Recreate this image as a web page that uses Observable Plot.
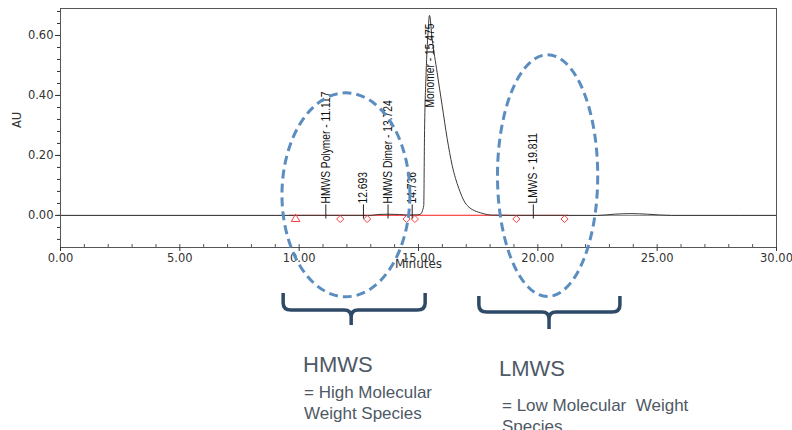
<!DOCTYPE html>
<html><head><meta charset="utf-8">
<script src="https://cdn.jsdelivr.net/npm/d3@7"></script>
<script src="https://cdn.jsdelivr.net/npm/@observablehq/plot@0.6"></script>
<style>
html,body{margin:0;padding:0;background:#fff;}
#chart{width:792px;height:430px;overflow:hidden;}
</style></head><body><div id="chart"></div>
<script>
// Chromatogram trace (minutes, AU)
const timeMin = [0, 9.0, 13.0, 13.3, 13.7, 14.2, 14.6, 14.95, 15.08, 15.22, 15.25, 15.32, 15.40, 15.46, 15.57, 15.78, 15.99, 16.20, 16.41, 16.69, 17.04, 17.67, 18.09, 19.0, 21.0, 22.5, 23.2, 23.9, 24.6, 25.6, 27.0, 30.0];
const absorbanceAU = [0, 0, 0, 0.003, 0.004, 0.003, 0.001, 0.002, 0.004, 0.033, 0.257, 0.477, 0.61, 0.667, 0.59, 0.477, 0.367, 0.257, 0.167, 0.09, 0.033, 0.007, 0.001, 0, 0, 0, 0.004, 0.006, 0.004, 0, 0, 0];

// Peak labels
const peakTimes = [11.117, 12.693, 13.724, 14.736, 15.475, 19.811];
const peakNames = ["HMWS Polymer - 11.117", "12.693", "HMWS Dimer - 13.724", "14.736", "Monomer - 15.475", "LMWS - 19.811"];
const peakLabelAU = [0.04, 0.04, 0.04, 0.04, 0.36, 0.04];

// Integration baseline and event markers
const baselineTimes = [9.6, 21.3];
const markerTimes = [9.85, 11.72, 12.85, 14.5, 14.85, 19.1, 21.12];
const markerSymbols = ["triangle", "diamond2", "diamond2", "diamond2", "diamond2", "diamond2", "diamond2"];

// Axis ticks
const xTicks = [0, 5, 10, 15, 20, 25, 30];
const xMinorTicks = d3.range(0, 31, 1);
const yTicks = [0, 0.2, 0.4, 0.6];
const yMinorTicks = [-0.08, -0.04, 0, 0.04, 0.08, 0.12, 0.16, 0.2, 0.24, 0.28, 0.32, 0.36, 0.4, 0.44, 0.48, 0.52, 0.56, 0.6, 0.64, 0.68];

// Annotation groups
const groupNames = ["HMWS", "LMWS"];
const groupDescriptions = [["= High Molecular", "Weight Species"], ["= Low Molecular  Weight", "Species"]];

const trace = timeMin.map((t, i) => ({t, au: absorbanceAU[i]}));
const peaks = peakTimes.map((t, i) => ({t, name: peakNames[i], base: peakLabelAU[i]}));
const markers = markerTimes.map((t, i) => ({t, symbol: markerSymbols[i]}));

const plot = Plot.plot({
  width: 792, height: 430,
  marginLeft: 60, marginRight: 16, marginTop: 8, marginBottom: 183,
  style: {fontFamily: "'DejaVu Sans', sans-serif", fontSize: "11.5px", color: "#333", background: "#fff"},
  x: {domain: [0, 30]},
  y: {domain: [-0.107, 0.69]},
  marks: [
    Plot.ruleY([0], {stroke: "#8a8a8a", strokeWidth: 1}),
    Plot.ruleY([0], {x1: baselineTimes[0], x2: baselineTimes[1], stroke: "#ff5050", strokeWidth: 1.2}),
    Plot.line(trace, {x: "t", y: "au", stroke: "#3a3a3a", strokeWidth: 1, curve: "monotone-x"}),
    Plot.dot(markers, {x: "t", y: -0.012, symbol: "symbol", r: 3.2, stroke: "#ff4040", fill: "none", strokeWidth: 1}),
    Plot.ruleX(peaks.filter(d => d.base < 0.1), {x: "t", y1: -0.012, y2: 0.035, stroke: "#222", strokeWidth: 1}),
    Plot.text(peaks, {x: "t", y: "base", text: "name", rotate: -90, textAnchor: "start", lineAnchor: "middle", fontSize: 12.5, fontFamily: "'Liberation Sans', Arial, sans-serif", fill: "#111", className: "peaklabel"}),
    Plot.frame({stroke: "#555"}),
    Plot.axisX({ticks: xTicks, tickFormat: d3.format(".2f"), tickSize: 4, tickPadding: 2, label: null, fontSize: 11.5}),
    Plot.tickX(xMinorTicks, {x: d => d, insetTop: 236, stroke: "#555"}),
    Plot.axisY({ticks: yMinorTicks, tickSize: 3, tickFormat: () => "", label: null}),
    Plot.axisY({ticks: yTicks, tickFormat: d3.format(".2f"), tickSize: 5, tickPadding: 2, label: null, fontSize: 11.5}),
    Plot.text(["AU"], {frameAnchor: "left", dx: -43, rotate: -90, fontSize: 11.5}),
    Plot.text(["Minutes"], {x: 15, frameAnchor: "bottom", dy: 20, fontSize: 12, textAnchor: "middle"})
  ]
});

document.getElementById("chart").appendChild(plot);

// Condense the rotated peak labels like the instrument software's narrow font
d3.select(plot).selectAll("g.peaklabel text, .peaklabel text").each(function() {
  const len = this.getComputedTextLength();
  if (len > 0) {
    this.setAttribute("textLength", (len * 0.82).toFixed(1));
    this.setAttribute("lengthAdjust", "spacingAndGlyphs");
  }
});

// Overlay annotations using the plot's scales
const sx = plot.scale("x"), sy = plot.scale("y");
const svg = d3.select(plot);
const ellipseT = [11.98, 20.43], ellipseAU = [0.067, 0.131], ellipseRT = [2.68, 2.1], ellipseRAU = [0.34, 0.403];
ellipseT.forEach((t, i) => {
  const cx = sx.apply(t), cy = sy.apply(ellipseAU[i]);
  svg.append("ellipse")
    .attr("cx", cx).attr("cy", cy)
    .attr("rx", sx.apply(t + ellipseRT[i]) - cx)
    .attr("ry", cy - sy.apply(ellipseAU[i] + ellipseRAU[i]))
    .attr("fill", "none").attr("stroke", "#5b8dbf").attr("stroke-width", 3)
    .attr("stroke-dasharray", "9,5");
});

// Braces
const braceFrom = [9.35, 17.55], braceTo = [15.3, 23.46], braceTip = [12.2, 20.49];
const braceTop = [293, 296], braceLine = [310, 312], braceBottom = [325, 329];
braceFrom.forEach((a, i) => {
  const x1 = sx.apply(a), x2 = sx.apply(braceTo[i]), xm = sx.apply(braceTip[i]);
  const t = braceTop[i], h = braceLine[i], b = braceBottom[i];
  const p = `M${x1},${t} L${x1},${h - 7} Q${x1},${h} ${x1 + 8},${h} L${xm - 7},${h} Q${xm},${h} ${xm},${h + 7} L${xm},${b} M${xm},${h + 7} Q${xm},${h} ${xm + 7},${h} L${x2 - 8},${h} Q${x2},${h} ${x2},${h - 7} L${x2},${t}`;
  svg.append("path").attr("d", p).attr("fill", "none").attr("stroke", "#2e4a67").attr("stroke-width", 3.5);
});

// Group texts
const groupX = [303, 499], groupY = [372, 376], descX = [304, 502], descY = [398, 411];
const labels = svg.append("g").attr("text-anchor", "start")
  .attr("font-family", "'Liberation Sans', Arial, sans-serif").attr("fill", "#4e5966");
groupNames.forEach((name, i) => {
  labels.append("text").attr("x", groupX[i]).attr("y", groupY[i])
    .attr("font-size", 22).text(name);
  groupDescriptions[i].forEach((line, j) => {
    labels.append("text").attr("x", descX[i]).attr("y", descY[i] + j * 21)
      .attr("font-size", 17).style("white-space", "pre").text(line);
  });
});
</script></body></html>
